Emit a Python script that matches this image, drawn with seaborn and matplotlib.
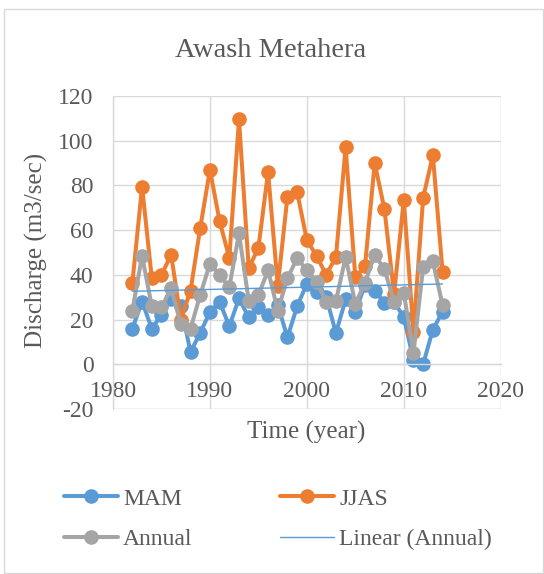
import matplotlib
matplotlib.use("Agg")
import matplotlib.pyplot as plt
import seaborn as sns
import numpy as np
import pandas as pd
from matplotlib.patches import Rectangle

years = list(range(1982, 2015))
mam = [16, 28, 16, 22, 29, 26, 5.5, 14, 23.5, 28, 17, 29.5, 21, 25.5, 22, 26.5, 12,
       26, 36, 32.5, 30, 14, 29, 23.5, 35.5, 33, 27.5, 28, 21, 2, 0, 15.5, 23.5]
jjas = [36.5, 79.5, 38.5, 40, 49, 20, 33, 61, 87, 64, 47.5, 109.5, 43, 52, 86, 35, 75,
        77, 55.5, 48.5, 40, 48, 97, 39, 44, 90, 69.5, 31.5, 73.5, 14.5, 74.5, 93.5, 41.5]
annual = [24, 48.5, 26, 25.5, 34, 18, 16, 31, 45, 40, 34.5, 58.5, 28.5, 31, 42, 24, 38.5,
          47.5, 42, 37, 28, 28.3, 48, 27, 36.5, 49, 42.5, 28, 32, 5, 43.5, 46, 26.5]
xticks = [1980, 1990, 2000, 2010, 2020]
yticks = [-20, 0, 20, 40, 60, 80, 100, 120]
title = "Awash Metahera"

df = pd.DataFrame({"year": years, "MAM": mam, "JJAS": jjas, "Annual": annual})

sns.set_theme(style="white")
plt.rcParams['font.family'] = ['Liberation Serif', 'DejaVu Serif']
plt.rcParams['axes.unicode_minus'] = False
txt = "#595959"
grid = "#D9D9D9"

W, H = 544, 574
fig = plt.figure(figsize=(W / 100, H / 100), dpi=100)
ax = fig.add_axes([113 / W, 1 - 409 / H, (500.7 - 113) / W, (409 - 96) / H])

lw = 2.9
ms = 10.5
sns.lineplot(data=df, x="year", y="MAM", ax=ax, color="#5B9BD5", lw=lw, marker="o",
             markersize=ms, markeredgewidth=0, label="MAM", legend=False)
sns.lineplot(data=df, x="year", y="JJAS", ax=ax, color="#ED7D31", lw=lw, marker="o",
             markersize=ms, markeredgewidth=0, label="JJAS", legend=False)
sns.lineplot(data=df, x="year", y="Annual", ax=ax, color="#A5A5A5", lw=lw, marker="o",
             markersize=ms, markeredgewidth=0, label="Annual", legend=False)
sns.regplot(data=df, x="year", y="Annual", ax=ax, scatter=False, ci=None, truncate=True,
            line_kws=dict(color="#5B9BD5", lw=1.0), label="Linear (Annual)")

ax.set_xlim(1980, 2020)
ax.set_ylim(-20, 120)
ax.set_xticks(xticks)
ax.set_yticks(yticks)
ax.set_xlabel("")
ax.set_ylabel("")
ax.grid(True, color=grid, lw=1.0)
ax.set_axisbelow(True)
for s in ["top", "right"]:
    ax.spines[s].set_visible(False)
ax.spines["bottom"].set_position(("data", 0))
ax.spines["bottom"].set_color(grid)
ax.spines["left"].set_color(grid)
ax.spines["bottom"].set_linewidth(1.0)
ax.spines["left"].set_linewidth(1.0)
ax.tick_params(axis="x", length=0, pad=12, labelsize=17, labelcolor=txt)
ax.tick_params(axis="y", length=0, pad=14, labelsize=17, labelcolor=txt)
ax.axhline(-20, color=grid, lw=1.0, zorder=0)

fig.text(271 / W, 1 - 57 / H, title, ha="center", va="baseline", fontsize=20.5, color=txt)
fig.text(36 / W, 1 - 250 / H, "Discharge (m3/sec)", rotation=90, ha="center", va="center",
         fontsize=18, color=txt)
fig.text(306.5 / W, 1 - 432 / H, "Time (year)", ha="center", va="center", fontsize=18, color=txt)

lines = ax.get_lines()
byl = {l.get_label(): l for l in lines}
handles = [byl["MAM"], byl["Annual"], byl["JJAS"], byl["Linear (Annual)"]]
labels = ["MAM", "Annual", "JJAS", "Linear (Annual)"]
leg = fig.legend(handles, labels, ncol=2, loc="center", bbox_to_anchor=(278 / W, 1 - 519 / H),
                 frameon=False, fontsize=17, handlelength=2.3, handletextpad=0.2,
                 columnspacing=3.7, labelspacing=0.8, markerscale=1.0)
for t in leg.get_texts():
    t.set_color(txt)

fig.patches.append(Rectangle((4 / W, 1 - 573 / H), 539 / W, 564 / H, transform=fig.transFigure,
                             fill=False, edgecolor="#D9D9D9", lw=1.0))

fig.savefig("out.png", dpi=100)
